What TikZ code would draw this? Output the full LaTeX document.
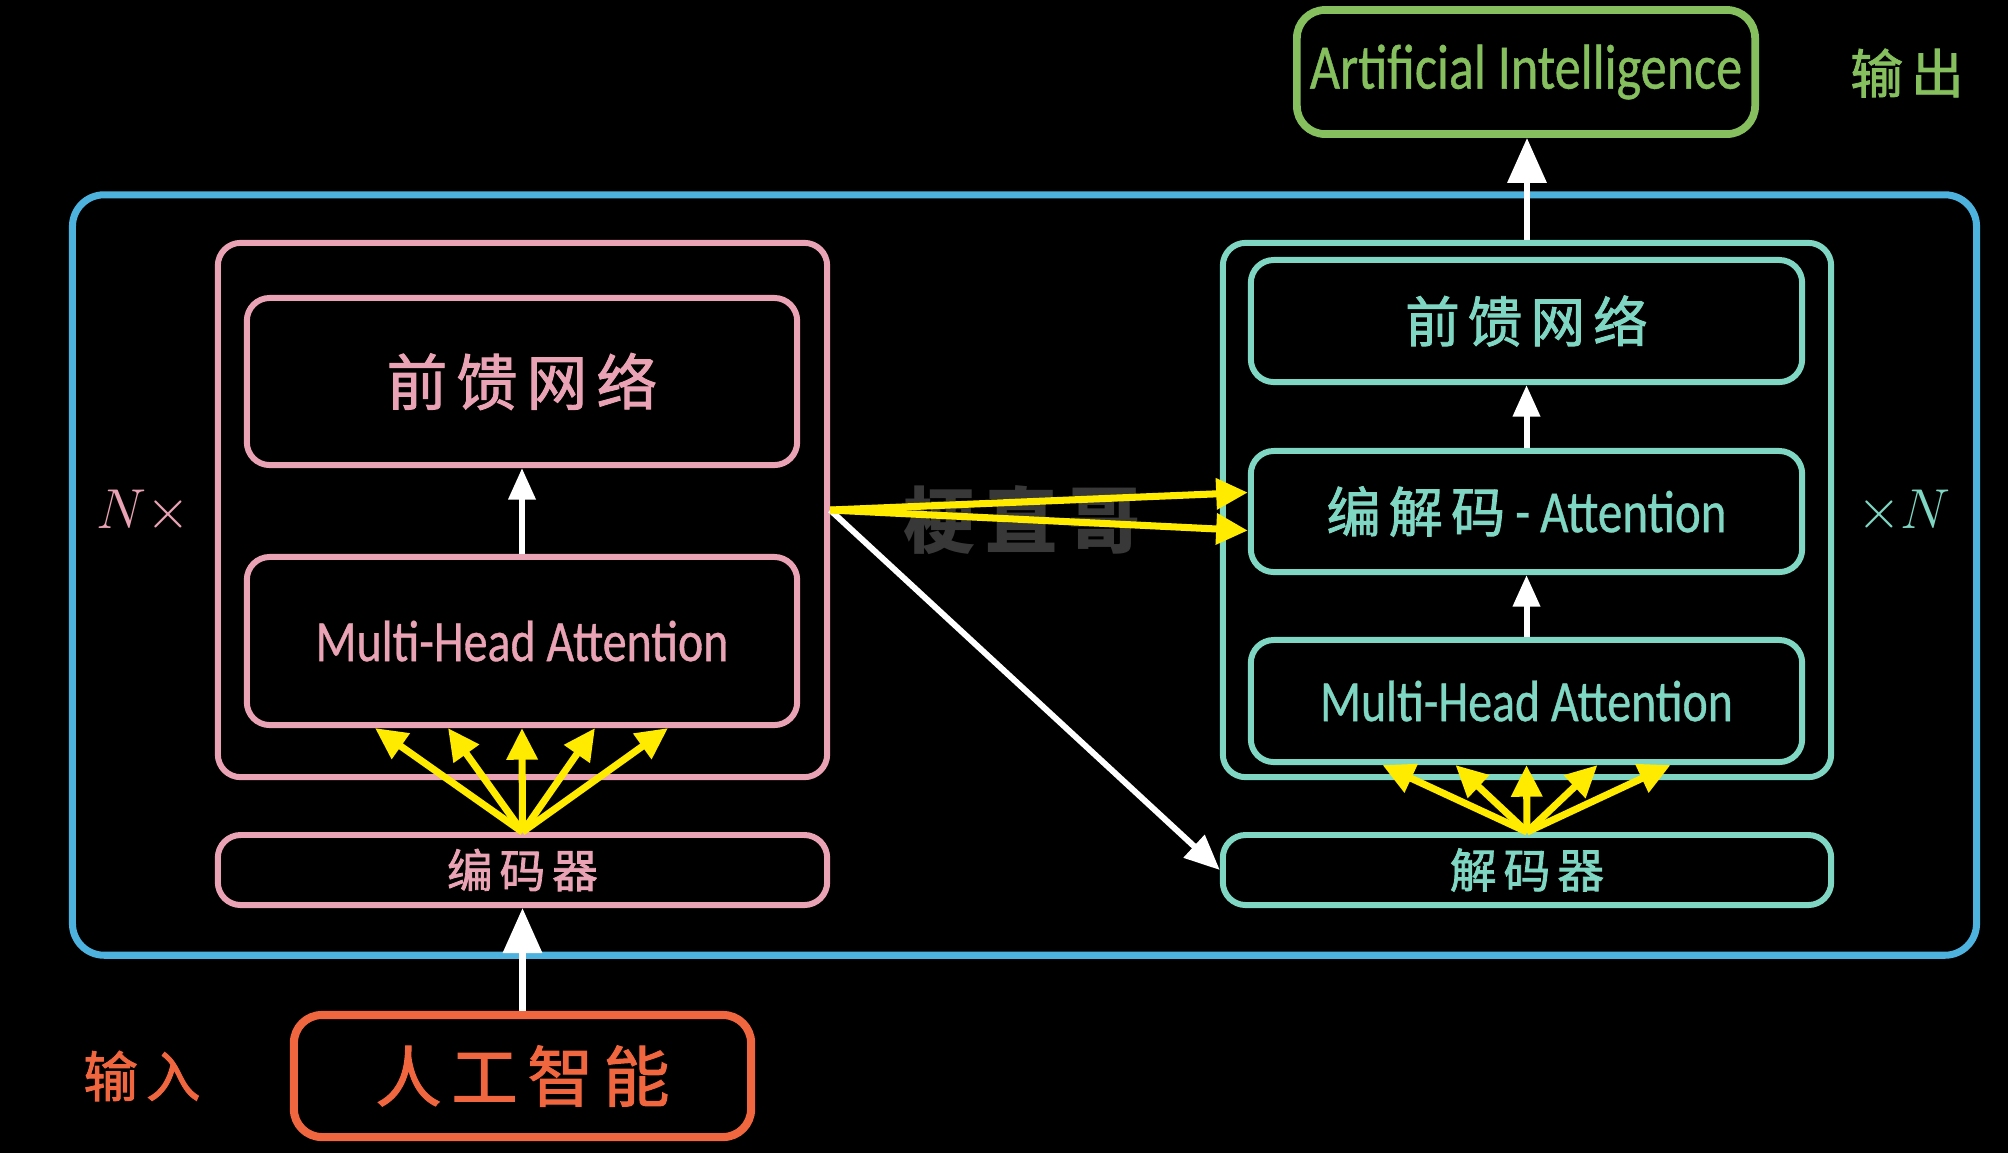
\documentclass[tikz,border=0pt]{standalone}
\usepackage{fix-cm}
\usepackage{fontspec}
\usetikzlibrary{arrows.meta,calc}
\newfontfamily\cjk[LetterSpace=15,FakeBold=1.6]{Noto Sans CJK SC}
\newfontfamily\cjkw[LetterSpace=15]{Noto Sans CJK SC}
\newfontfamily\hand[FakeStretch=0.82,FakeBold=0.6]{Carlito}
\definecolor{pk}{HTML}{E9A3B5}
\definecolor{tl}{HTML}{7FD6C2}
\definecolor{bl}{HTML}{4DB3DE}
\definecolor{gr}{HTML}{86BF5E}
\definecolor{og}{HTML}{F0663F}
\definecolor{yl}{HTML}{FFEB00}
\definecolor{wm}{HTML}{383838}
\newcommand{\fs}[1]{\fontsize{#1}{1.2\dimexpr#1\relax}\selectfont}
\tikzset{
  box/.style={draw, rounded corners=6.5pt, line width=1.7pt, inner sep=0pt, align=center},
  warrow/.style={draw=white, line width=1.7pt, -{Triangle[length=9pt,width=7.5pt,fill=white]}},
  wbig/.style={draw=white, line width=1.9pt, -{Triangle[length=12.8pt,width=10.8pt,fill=white]}},
  wdiag/.style={draw=white, line width=1.7pt, -{Triangle[length=10pt,width=8.5pt,fill=white]}},
  yarrow/.style={draw=yl, line width=2pt, -{Triangle[length=9pt,width=8.5pt,fill=yl]}},
}
\begin{document}
\begin{tikzpicture}[x=0.01cm,y=-0.01cm]
\fill[black] (0,0) rectangle (2008,1153);
\useasboundingbox (0,0) rectangle (2008,1153);

% watermark
\node[text=wm] (wmk) at (1022,520) {\cjkw\bfseries\fs{20.5pt}梗直哥};

% outer blue frame
\node[box, draw=bl, line width=2pt, rounded corners=9pt, minimum width=19.03cm, minimum height=7.6cm] (frame) at (1024.5,575) {};

% output
\node[box, draw=gr, line width=2.2pt, rounded corners=8pt, minimum width=4.58cm, minimum height=1.24cm, text=gr] (ai) at (1526,72) {\hand\fs{18.1pt}Artificial Intelligence};
\node[text=gr] (outlbl) at (1907,73) {\cjk\fs{15pt}输出};

% encoder
\node[box, draw=pk, minimum width=6.09cm, minimum height=5.34cm] (eblk) at (522.5,510) {};
\node[box, draw=pk, minimum width=5.5cm, minimum height=1.67cm, text=pk] (effn) at (522,381.5) {\cjk\fs{17.3pt}前馈网络};
\node[box, draw=pk, minimum width=5.5cm, minimum height=1.68cm, text=pk] (emha) at (522,641) {\hand\fs{16.6pt}Multi-Head Attention};
\node[box, draw=pk, minimum width=6.09cm, minimum height=0.70cm, text=pk] (enc) at (522.5,870) {\cjk\fs{13pt}编码器};
\node[box, draw=og, line width=2.3pt, rounded corners=8pt, minimum width=4.57cm, minimum height=1.22cm, text=og] (inp) at (522.5,1076) {\cjk\fs{18.8pt}人工智能};
\node[text=og] (inlbl) at (142,1076) {\cjk\fs{15.5pt}输入};
\node[text=pk] (nx) at (143,512) {\fs{16pt}$N\times$};

% decoder
\node[box, draw=tl, minimum width=6.08cm, minimum height=5.34cm] (dblk) at (1527,510) {};
\node[box, draw=tl, minimum width=5.51cm, minimum height=1.22cm, text=tl] (dffn) at (1526.5,321) {\cjk\fs{15.5pt}前馈网络};
\node[box, draw=tl, minimum width=5.51cm, minimum height=1.21cm, text=tl] (ded) at (1526.5,511.5) {\cjk\fs{15.4pt}编解码\hand\fs{17pt}\,-\,Attention};
\node[box, draw=tl, minimum width=5.51cm, minimum height=1.22cm, text=tl] (dmha) at (1526.5,701) {\hand\fs{16.6pt}Multi-Head Attention};
\node[box, draw=tl, minimum width=6.08cm, minimum height=0.70cm, text=tl] (dec) at (1527,870) {\cjk\fs{13.3pt}解码器};
\node[text=tl] (xn) at (1904,512) {\fs{16pt}$\times N$};

% white arrows
\draw[wbig] (inp.north) -- (enc.south);
\draw[wbig] (dblk.north) -- (dblk.north |- ai.south);
\draw[warrow] (emha.north) -- (effn.south);
\draw[warrow] (dmha.north) -- (ded.south);
\draw[warrow] (ded.north) -- (dffn.south);
\draw[wdiag] (eblk.east) -- (dec.west);

% yellow arrows encoder -> enc-dec attention
\draw[yarrow] (eblk.east) -- ($(ded.west)+(0,-19)$);
\draw[yarrow] (eblk.east) -- ($(ded.west)+(0,19)$);

% yellow fans
\foreach \dx in {-147,-74,0,73,146}
  \draw[yarrow] (enc.north) -- ($(emha.south)+(\dx,0)$);
\foreach \dx in {-144,-71,0,71,144}
  \draw[yarrow] (dec.north) -- ($(dmha.south)+(\dx,0)$);
\end{tikzpicture}
\end{document}
